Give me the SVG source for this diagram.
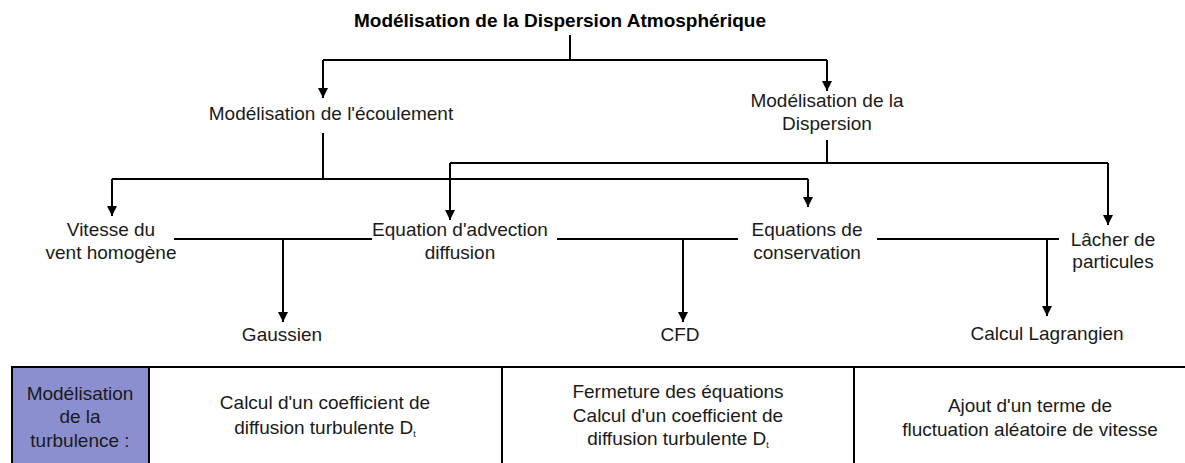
<svg xmlns="http://www.w3.org/2000/svg" width="1185" height="463" viewBox="0 0 1185 463">
<style>
text{font-family:"Liberation Sans",Arial,Helvetica,sans-serif;font-size:19px;fill:#1a1a1a;text-anchor:middle}
.title{font-weight:bold;fill:#000}
.sub{font-size:9px}
.ln{fill:none;stroke:#000;stroke-width:2}
.arr{fill:none;stroke:#000;stroke-width:2;marker-end:url(#ah)}
.cell{fill:#fff;stroke:#000;stroke-width:2}
.head{fill:#8c8fcf;stroke:#000;stroke-width:2}
</style>
<defs>
<marker id="ah" markerUnits="userSpaceOnUse" markerWidth="11" markerHeight="11" refX="10" refY="5" orient="auto">
<path d="M0,0 L10,5 L0,10 z" fill="#000"/>
</marker>
</defs>
<rect width="1185" height="463" fill="#fff"/>

<g id="connectors">
<path class="ln" d="M570,35 V60 M323,60 H827"/>
<path class="arr" d="M323,60 V98"/>
<path class="arr" d="M827,60 V91"/>
<path class="ln" d="M323,133 V179 M112,179 H808"/>
<path class="arr" d="M112,179 V216"/>
<path class="arr" d="M808,179 V207"/>
<path class="ln" d="M827,140 V163 M450,163 H1108"/>
<path class="arr" d="M450,163 V220"/>
<path class="arr" d="M1108,163 V225"/>
<path class="ln" d="M174,239 H372"/>
<path class="arr" d="M283,239 V322"/>
<path class="ln" d="M557,239 H738"/>
<path class="arr" d="M683,239 V322"/>
<path class="ln" d="M877,239 H1059"/>
<path class="arr" d="M1047,239 V316"/>
</g>

<g id="n-root"><text class="title" x="560" y="27">Modélisation de la Dispersion Atmosphérique</text></g>
<g id="n-ecoulement"><text x="331" y="120">Modélisation de l'écoulement</text></g>
<g id="n-dispersion"><text x="827" y="107">Modélisation de la</text><text x="827" y="130">Dispersion</text></g>
<g id="n-vitesse"><text x="111" y="236">Vitesse du</text><text x="111" y="259">vent homogène</text></g>
<g id="n-advection"><text x="460" y="236">Equation d'advection</text><text x="460" y="259">diffusion</text></g>
<g id="n-conservation"><text x="807" y="236">Equations de</text><text x="807" y="259">conservation</text></g>
<g id="n-lacher"><text x="1113" y="246">Lâcher de</text><text x="1113" y="268">particules</text></g>
<g id="n-gaussien"><text x="282" y="341">Gaussien</text></g>
<g id="n-cfd"><text x="680" y="341">CFD</text></g>
<g id="n-lagrangien"><text x="1047" y="340">Calcul Lagrangien</text></g>

<g id="table">
<rect class="head" x="12" y="367" width="137" height="110"/>
<rect class="cell" x="149" y="367" width="353" height="110"/>
<rect class="cell" x="502" y="367" width="352" height="110"/>
<rect class="cell" x="854" y="367" width="360" height="110"/>
</g>
<g id="t-head"><text x="80" y="400">Modélisation</text><text x="80" y="423">de la</text><text x="80" y="447">turbulence :</text></g>
<g id="t-gauss"><text x="325" y="409">Calcul d'un coefficient de</text><text x="325" y="434">diffusion turbulente D<tspan class="sub" dy="3">t</tspan></text></g>
<g id="t-cfd"><text x="678" y="398">Fermeture des équations</text><text x="678" y="422">Calcul d'un coefficient de</text><text x="678" y="445">diffusion turbulente D<tspan class="sub" dy="3">t</tspan></text></g>
<g id="t-lagr"><text x="1030" y="412">Ajout d'un terme de</text><text x="1030" y="436">fluctuation aléatoire de vitesse</text></g>
</svg>
